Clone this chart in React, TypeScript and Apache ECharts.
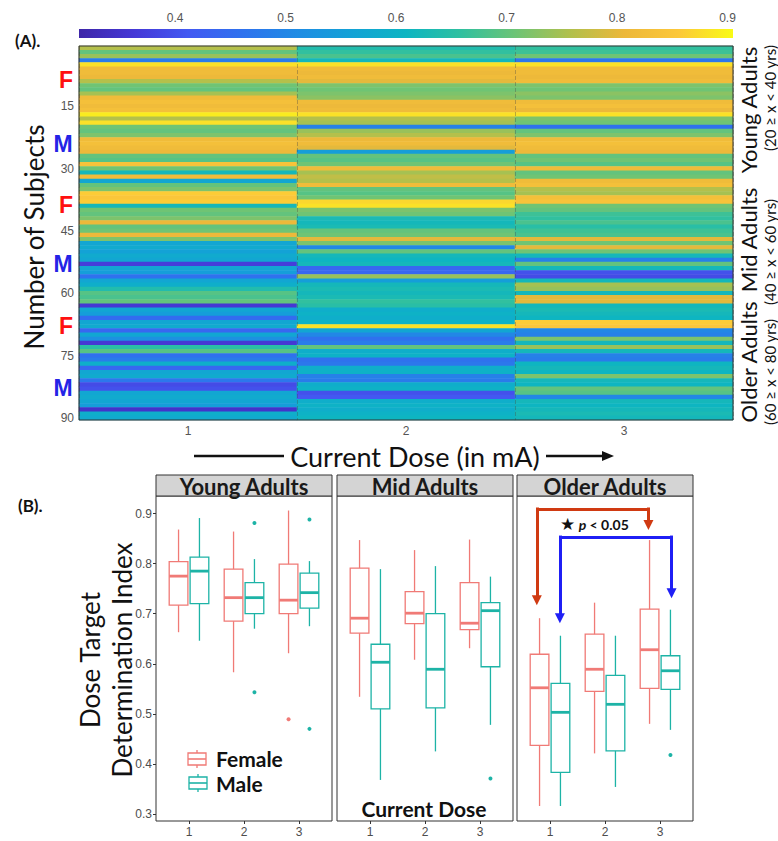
import React, { useEffect, useRef } from 'react';
import * as echarts from 'echarts';

// ---------------- Panel A data ----------------
const doseCategories = ['1', '2', '3'];
const subjectCategories = Array.from({ length: 90 }, (_, i) => String(i + 1));
const subjectTickLabels = ['15', '30', '45', '60', '75', '90'];
const colorbarTicks = [0.4, 0.5, 0.6, 0.7, 0.8, 0.9];
const colorbarMin = 0.313;
const colorbarMax = 0.905;

const dose1Index = [
  0.76, 0.70, 0.74, 0.48, 0.88, 0.82, 0.82, 0.81, 0.76, 0.71,
  0.70, 0.75, 0.82, 0.83, 0.82, 0.83, 0.89, 0.76, 0.88, 0.71,
  0.70, 0.72, 0.82, 0.83, 0.82, 0.81, 0.70, 0.69, 0.84, 0.71,
  0.62, 0.82, 0.57, 0.70, 0.72, 0.86, 0.85, 0.86, 0.62, 0.71,
  0.70, 0.72, 0.81, 0.70, 0.71, 0.81, 0.72, 0.57, 0.58, 0.56,
  0.58, 0.57, 0.37, 0.57, 0.55, 0.46, 0.57, 0.59, 0.64, 0.69,
  0.68, 0.70, 0.36, 0.57, 0.55, 0.45, 0.57, 0.58, 0.44, 0.57,
  0.52, 0.36, 0.65, 0.69, 0.46, 0.48, 0.59, 0.44, 0.57, 0.58,
  0.47, 0.39, 0.40, 0.57, 0.58, 0.57, 0.55, 0.35, 0.59, 0.58,
];
const dose2Index = [
  0.64, 0.66, 0.68, 0.62, 0.88, 0.82, 0.81, 0.82, 0.80, 0.72,
  0.71, 0.72, 0.73, 0.82, 0.81, 0.82, 0.88, 0.76, 0.75, 0.49,
  0.74, 0.76, 0.81, 0.82, 0.80, 0.55, 0.70, 0.69, 0.71, 0.82,
  0.75, 0.77, 0.76, 0.82, 0.70, 0.69, 0.71, 0.87, 0.88, 0.72,
  0.71, 0.63, 0.62, 0.63, 0.70, 0.71, 0.80, 0.72, 0.50, 0.70,
  0.62, 0.61, 0.62, 0.44, 0.44, 0.74, 0.55, 0.62, 0.63, 0.62,
  0.63, 0.66, 0.65, 0.59, 0.60, 0.59, 0.60, 0.88, 0.57, 0.50,
  0.46, 0.48, 0.70, 0.59, 0.60, 0.46, 0.47, 0.59, 0.60, 0.49,
  0.48, 0.59, 0.60, 0.40, 0.41, 0.59, 0.60, 0.59, 0.60, 0.61,
];
const dose3Index = [
  0.66, 0.67, 0.71, 0.47, 0.88, 0.82, 0.82, 0.81, 0.82, 0.72,
  0.71, 0.73, 0.72, 0.82, 0.83, 0.81, 0.88, 0.72, 0.71, 0.46,
  0.70, 0.72, 0.82, 0.83, 0.82, 0.81, 0.70, 0.71, 0.69, 0.82,
  0.70, 0.71, 0.82, 0.83, 0.76, 0.75, 0.83, 0.84, 0.71, 0.70,
  0.67, 0.66, 0.68, 0.65, 0.67, 0.68, 0.80, 0.71, 0.80, 0.71,
  0.62, 0.49, 0.70, 0.62, 0.40, 0.39, 0.62, 0.75, 0.74, 0.62,
  0.80, 0.80, 0.62, 0.63, 0.62, 0.61, 0.86, 0.85, 0.50, 0.49,
  0.72, 0.62, 0.74, 0.62, 0.49, 0.48, 0.61, 0.62, 0.61, 0.72,
  0.62, 0.61, 0.70, 0.69, 0.50, 0.62, 0.61, 0.62, 0.63, 0.62,
];

// ---------------- Panel B data ----------------
// each row: [dose, lowerWhisker, q1, median, q3, upperWhisker]
const doseTicks = [1, 2, 3];
const indexTicks = [0.3, 0.4, 0.5, 0.6, 0.7, 0.8, 0.9];
const ageGroups = ['Young Adults', 'Mid Adults', 'Older Adults'];

const youngFemale = [
  [1, 0.663, 0.717, 0.775, 0.804, 0.868],
  [2, 0.583, 0.685, 0.732, 0.789, 0.864],
  [3, 0.621, 0.700, 0.727, 0.799, 0.906],
];
const youngMale = [
  [1, 0.646, 0.720, 0.785, 0.813, 0.891],
  [2, 0.670, 0.700, 0.732, 0.762, 0.809],
  [3, 0.675, 0.711, 0.742, 0.781, 0.805],
];
const youngFemaleOutliers = [[3, 0.489]];
const youngMaleOutliers = [[2, 0.881], [2, 0.543], [3, 0.888], [3, 0.470]];

const midFemale = [
  [1, 0.534, 0.661, 0.691, 0.791, 0.847],
  [2, 0.608, 0.680, 0.701, 0.744, 0.827],
  [3, 0.631, 0.668, 0.681, 0.762, 0.848],
];
const midMale = [
  [1, 0.368, 0.510, 0.603, 0.639, 0.789],
  [2, 0.425, 0.512, 0.589, 0.700, 0.795],
  [3, 0.478, 0.594, 0.706, 0.722, 0.774],
];
const midFemaleOutliers: number[][] = [];
const midMaleOutliers = [[3, 0.371]];

const olderFemale = [
  [1, 0.316, 0.437, 0.552, 0.619, 0.691],
  [2, 0.421, 0.545, 0.589, 0.659, 0.722],
  [3, 0.480, 0.551, 0.628, 0.709, 0.847],
];
const olderMale = [
  [1, 0.316, 0.383, 0.503, 0.561, 0.656],
  [2, 0.354, 0.426, 0.519, 0.577, 0.656],
  [3, 0.468, 0.549, 0.586, 0.616, 0.708],
];
const olderFemaleOutliers: number[][] = [];
const olderMaleOutliers = [[3, 0.418]];

// significance brackets (data coordinates of Older Adults facet)
const redBracket = { left: 0.76, right: 2.79, top: 0.909, leftEnd: 0.727, rightEnd: 0.877 };
const blueBracket = { left: 1.18, right: 3.21, top: 0.853, leftEnd: 0.691, rightEnd: 0.741 };

// ---------------- styling / layout ----------------
const PARULA = [
  '#3e26a8', '#4538d6', '#4359f2', '#2f72ee', '#1f8ce4', '#13a2d6', '#0db5c2',
  '#2fc0a0', '#6cc476', '#b0c04c', '#ecb83a', '#fcc83a', '#f9fb15',
];
const FEMALE = '#F07A76';
const MALE = '#1DB3A6';
const TICK_FONT = 'Liberation Sans, Arial, sans-serif';
const TITLE_FONT = 'Lato, Open Sans, sans-serif';

const HM = { left: 79, top: 46, width: 654, height: 374 };
const CB = { left: 79, top: 29, width: 654, height: 9 };
const FACET_LEFTS = [156, 337, 517];
const FACET_W = 176;
const FACET_TOP = 496;
const FACET_H = 325;
const STRIP_H = 21;
const DODGE = 0.19;
const BOX_HALF = 0.17;

function boxRenderer(offset: number, color: string) {
  return (_params: any, api: any) => {
    const x = api.value(0) + offset;
    const low = api.coord([x, api.value(1)]);
    const q1 = api.coord([x, api.value(2)]);
    const med = api.coord([x, api.value(3)]);
    const q3 = api.coord([x, api.value(4)]);
    const high = api.coord([x, api.value(5)]);
    const hw = api.size([BOX_HALF, 0])[0];
    const cx = low[0];
    const thin = { stroke: color, lineWidth: 1.3, fill: 'none' };
    return {
      type: 'group',
      children: [
        { type: 'line', shape: { x1: cx, y1: high[1], x2: cx, y2: q3[1] }, style: thin },
        { type: 'line', shape: { x1: cx, y1: q1[1], x2: cx, y2: low[1] }, style: thin },
        { type: 'rect', shape: { x: cx - hw, y: q3[1], width: 2 * hw, height: q1[1] - q3[1] }, style: thin },
        { type: 'line', shape: { x1: cx - hw, y1: med[1], x2: cx + hw, y2: med[1] }, style: { stroke: color, lineWidth: 2.8 } },
      ],
    };
  };
}

function outlierRenderer(offset: number, color: string) {
  return (_params: any, api: any) => {
    const p = api.coord([api.value(0) + offset, api.value(1)]);
    return { type: 'circle', shape: { cx: p[0], cy: p[1], r: 2 }, style: { fill: color } };
  };
}

function txt(x: number, y: number, text: string, font: any, extra: any = {}) {
  return {
    type: 'text',
    x,
    y,
    rotation: extra.rotation || 0,
    z: 50,
    style: {
      text,
      fontSize: font.size,
      fontFamily: font.family || TITLE_FONT,
      fontWeight: font.weight || 'normal',
      fontStyle: font.style || 'normal',
      fill: font.color || '#111',
      align: extra.align || 'center',
      verticalAlign: extra.verticalAlign || 'middle',
      rich: extra.rich,
    },
  };
}

export default function App() {
  const ref = useRef<HTMLDivElement>(null);

  useEffect(() => {
    if (!ref.current) return;
    const chart = echarts.init(ref.current, undefined, { renderer: 'svg' });

    const doseCols = [dose1Index, dose2Index, dose3Index];
    const heatData: number[][] = [];
    doseCols.forEach((col, c) => col.forEach((v, r) => heatData.push([c, r, v])));

    const showSubjectTick = (index: number) => subjectTickLabels.includes(subjectCategories[index]);

    const grids: any[] = [
      { left: HM.left, top: HM.top, width: HM.width, height: HM.height, containLabel: false },
      { left: CB.left, top: CB.top, width: CB.width, height: CB.height, containLabel: false },
      ...FACET_LEFTS.map((l) => ({
        left: l, top: FACET_TOP, width: FACET_W, height: FACET_H, containLabel: false,
        show: true, borderColor: '#333', borderWidth: 1, backgroundColor: '#fff',
      })),
    ];

    const xAxes: any[] = [
      {
        type: 'category', gridIndex: 0, data: doseCategories, z: 5,
        axisLine: { show: false }, axisTick: { show: false },
        axisLabel: { color: '#555', fontSize: 12, margin: 5, fontFamily: TICK_FONT },
        splitLine: { show: true, lineStyle: { color: 'rgba(70,70,70,0.35)', type: 'dashed', width: 1 } },
      },
      {
        type: 'value', gridIndex: 1, min: colorbarMin, max: colorbarMax, position: 'top',
        axisLine: { show: false }, axisTick: { show: false }, splitLine: { show: false },
        axisLabel: { customValues: colorbarTicks, color: '#555', fontSize: 12, margin: 5, fontFamily: TICK_FONT, formatter: (v: number) => v.toFixed(1) },
      },
      ...FACET_LEFTS.map((_, i) => ({
        type: 'value', gridIndex: i + 2, min: 0.4, max: 3.6,
        axisLine: { show: false }, splitLine: { show: false },
        axisTick: { show: true, customValues: doseTicks, length: 3, lineStyle: { color: '#333' } },
        axisLabel: { customValues: doseTicks, color: '#4d4d4d', fontSize: 12, margin: 5, fontFamily: TICK_FONT, formatter: (v: number) => String(v) },
      })),
    ];

    const yAxes: any[] = [
      {
        type: 'category', gridIndex: 0, data: subjectCategories, inverse: true,
        axisLine: { show: false },
        axisTick: { show: true, inside: true, length: 4, interval: showSubjectTick, alignWithLabel: true, lineStyle: { color: '#444' } },
        axisLabel: { interval: showSubjectTick, color: '#555', fontSize: 12, margin: 5, fontFamily: TICK_FONT },
        splitLine: { show: false },
      },
      { type: 'value', gridIndex: 1, show: false, min: 0, max: 1 },
      ...FACET_LEFTS.map((_, i) => ({
        type: 'value', gridIndex: i + 2, min: 0.286, max: 0.935,
        axisLine: { show: false }, splitLine: { show: false },
        axisTick: { show: i === 0, customValues: indexTicks, length: 3, lineStyle: { color: '#333' } },
        axisLabel: { show: i === 0, customValues: indexTicks, color: '#4d4d4d', fontSize: 12, margin: 4, fontFamily: TICK_FONT, formatter: (v: number) => v.toFixed(1) },
      })),
    ];

    const facets = [
      { f: youngFemale, m: youngMale, fo: youngFemaleOutliers, mo: youngMaleOutliers },
      { f: midFemale, m: midMale, fo: midFemaleOutliers, mo: midMaleOutliers },
      { f: olderFemale, m: olderMale, fo: olderFemaleOutliers, mo: olderMaleOutliers },
    ];

    const series: any[] = [
      {
        type: 'heatmap', xAxisIndex: 0, yAxisIndex: 0, data: heatData,
        itemStyle: { borderWidth: 0 }, emphasis: { disabled: true }, progressive: 0,
      },
    ];
    facets.forEach((fc, i) => {
      const ax = i + 2;
      series.push(
        { type: 'custom', name: 'Female', xAxisIndex: ax, yAxisIndex: ax, data: fc.f, renderItem: boxRenderer(-DODGE, FEMALE), encode: { x: 0, y: [1, 2, 3, 4, 5] }, clip: false, silent: true },
        { type: 'custom', name: 'Male', xAxisIndex: ax, yAxisIndex: ax, data: fc.m, renderItem: boxRenderer(DODGE, MALE), encode: { x: 0, y: [1, 2, 3, 4, 5] }, clip: false, silent: true },
        { type: 'custom', name: 'Female', xAxisIndex: ax, yAxisIndex: ax, data: fc.fo, renderItem: outlierRenderer(-DODGE, FEMALE), encode: { x: 0, y: 1 }, silent: true },
        { type: 'custom', name: 'Male', xAxisIndex: ax, yAxisIndex: ax, data: fc.mo, renderItem: outlierRenderer(DODGE, MALE), encode: { x: 0, y: 1 }, silent: true },
      );
    });

    const bracketSeries = (b: typeof redBracket, color: string) => ({
      type: 'lines', coordinateSystem: 'cartesian2d', xAxisIndex: 4, yAxisIndex: 4,
      symbol: ['none', 'triangle'], symbolSize: [11, 10], silent: true, z: 10,
      lineStyle: { color, width: 3, opacity: 1, curveness: 0 },
      data: [
        { coords: [[b.left, b.top + 0.003], [b.left, b.leftEnd]] },
        { coords: [[b.left, b.top], [b.right, b.top]], symbol: 'none' },
        { coords: [[b.right, b.top + 0.003], [b.right, b.rightEnd]] },
      ],
    });
    series.push(bracketSeries(redBracket, '#D03A12'), bracketSeries(blueBracket, '#1F1FF5'));

    const gradient = new echarts.graphic.LinearGradient(
      0, 0, 1, 0,
      PARULA.map((c, i) => ({ offset: i / (PARULA.length - 1), color: c })),
    );

    const graphic: any[] = [
      // Panel A decorations
      txt(15, 40, '(A).', { size: 17, weight: 'bold' }, { align: 'left' }),
      { type: 'rect', shape: { x: CB.left, y: CB.top, width: CB.width, height: CB.height }, style: { fill: gradient }, z: 40 },
      { type: 'rect', shape: { x: HM.left, y: HM.top, width: HM.width, height: HM.height }, style: { fill: 'none', stroke: '#333', lineWidth: 1 }, z: 40 },
      txt(34, 237, 'Number of Subjects', { size: 26 }, { rotation: Math.PI / 2 }),
      txt(66, 80, 'F', { size: 23, weight: 'bold', color: '#ff1010', family: TICK_FONT }),
      txt(63, 144, 'M', { size: 23, weight: 'bold', color: '#2424e6', family: TICK_FONT }),
      txt(66, 205, 'F', { size: 23, weight: 'bold', color: '#ff1010', family: TICK_FONT }),
      txt(63, 264, 'M', { size: 23, weight: 'bold', color: '#2424e6', family: TICK_FONT }),
      txt(66, 326, 'F', { size: 23, weight: 'bold', color: '#ff1010', family: TICK_FONT }),
      txt(63, 388, 'M', { size: 23, weight: 'bold', color: '#2424e6', family: TICK_FONT }),
      txt(748, 110, 'Young Adults', { size: 22 }, { rotation: Math.PI / 2 }),
      txt(770, 98, '(20 ≥ x < 40 yrs)', { size: 15 }, { rotation: Math.PI / 2 }),
      txt(748, 240, 'Mid Adults', { size: 22 }, { rotation: Math.PI / 2 }),
      txt(770, 252, '(40 ≥ x < 60 yrs)', { size: 15 }, { rotation: Math.PI / 2 }),
      txt(748, 362, 'Older Adults', { size: 22 }, { rotation: Math.PI / 2 }),
      txt(770, 372, '(60 ≥ x < 80 yrs)', { size: 15 }, { rotation: Math.PI / 2 }),
      txt(415, 456, 'Current Dose (in mA)', { size: 27 }),
      { type: 'line', shape: { x1: 194, y1: 456, x2: 284, y2: 456 }, style: { stroke: '#111', lineWidth: 2.5 }, z: 40 },
      { type: 'line', shape: { x1: 546, y1: 456, x2: 604, y2: 456 }, style: { stroke: '#111', lineWidth: 2.5 }, z: 40 },
      { type: 'polygon', shape: { points: [[602, 451], [614, 456], [602, 461]] }, style: { fill: '#111' }, z: 40 },

      // Panel B decorations
      txt(18, 505, '(B).', { size: 17, weight: 'bold' }, { align: 'left' }),
      ...FACET_LEFTS.flatMap((l, i) => [
        { type: 'rect', shape: { x: l, y: FACET_TOP - STRIP_H, width: FACET_W, height: STRIP_H }, style: { fill: '#d4d4d4', stroke: '#333', lineWidth: 1 }, z: 40 },
        txt(l + FACET_W / 2, FACET_TOP - STRIP_H / 2 + 1, ageGroups[i], { size: 22, weight: 'bold', color: '#1a1a1a' }),
      ]),
      txt(90, 660, 'Dose Target', { size: 26 }, { rotation: Math.PI / 2 }),
      txt(122, 660, 'Determination Index', { size: 26 }, { rotation: Math.PI / 2 }),
      txt(424, 808, 'Current Dose', { size: 21, weight: 'bold' }),
      // legend
      { type: 'line', shape: { x1: 197, y1: 750, x2: 197, y2: 768 }, style: { stroke: FEMALE, lineWidth: 1.3 }, z: 40 },
      { type: 'rect', shape: { x: 188, y: 753, width: 18, height: 12 }, style: { fill: '#fff', stroke: FEMALE, lineWidth: 1.3 }, z: 41 },
      { type: 'line', shape: { x1: 188, y1: 759, x2: 206, y2: 759 }, style: { stroke: FEMALE, lineWidth: 1.6 }, z: 42 },
      txt(216, 758, 'Female', { size: 21, weight: 'bold' }, { align: 'left' }),
      { type: 'line', shape: { x1: 198, y1: 774, x2: 198, y2: 792 }, style: { stroke: MALE, lineWidth: 1.3 }, z: 40 },
      { type: 'rect', shape: { x: 189, y: 777, width: 18, height: 12 }, style: { fill: '#fff', stroke: MALE, lineWidth: 1.3 }, z: 41 },
      { type: 'line', shape: { x1: 189, y1: 783, x2: 207, y2: 783 }, style: { stroke: MALE, lineWidth: 1.6 }, z: 42 },
      txt(216, 783, 'Male', { size: 21, weight: 'bold' }, { align: 'left' }),
      // significance label
      txt(560, 524, '{s|★} {p|p} {t|< 0.05}', { size: 14, weight: 'bold' }, {
        align: 'left',
        rich: {
          s: { fontSize: 17, fontFamily: 'DejaVu Sans', fill: '#111' },
          p: { fontSize: 14, fontStyle: 'italic', fontWeight: 'bold', fontFamily: TITLE_FONT, fill: '#111' },
          t: { fontSize: 14, fontWeight: 'bold', fontFamily: TITLE_FONT, fill: '#111' },
        },
      }),
    ];

    chart.setOption({
      animation: false,
      backgroundColor: '#fff',
      textStyle: { fontFamily: TICK_FONT },
      grid: grids,
      xAxis: xAxes,
      yAxis: yAxes,
      visualMap: {
        type: 'continuous', show: false, min: colorbarMin, max: colorbarMax,
        dimension: 2, seriesIndex: 0, inRange: { color: PARULA },
      },
      series,
      graphic,
    });

    return () => chart.dispose();
  }, []);

  return <div ref={ref} style={{ position: 'fixed', left: 0, top: 0, width: 778, height: 841 }} />;
}
